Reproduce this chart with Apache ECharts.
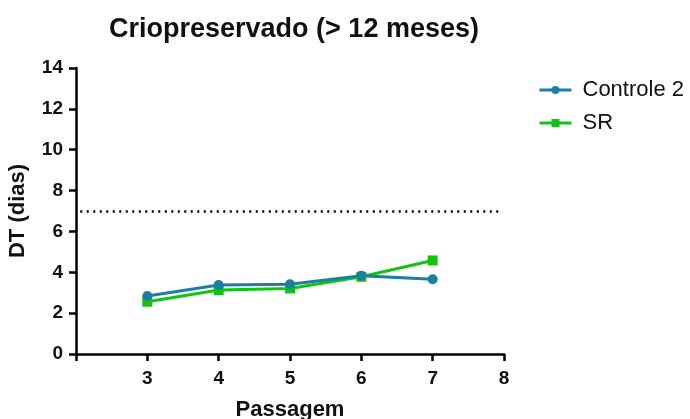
<!DOCTYPE html>
<html><head><meta charset="utf-8">
<script src="https://cdn.jsdelivr.net/npm/echarts@6/dist/echarts.min.js"></script>
<style>html,body{margin:0;padding:0;background:#fff}#c{width:690px;height:419px}</style>
</head><body><div id="c"></div>
<script>
const passagens = [3, 4, 5, 6, 7];
const controle2 = [2.84, 3.38, 3.41, 3.83, 3.66];
const sr = [2.56, 3.13, 3.21, 3.78, 4.58];
const refLine = 7;
const xTicks = [3, 4, 5, 6, 7, 8];
const yTicks = [0, 2, 4, 6, 8, 10, 12, 14];

const chart = echarts.init(document.getElementById('c'), null, {renderer: 'canvas'});
const font = 'Liberation Sans, Arial, sans-serif';
chart.setOption({
  animation: false,
  title: {text: 'Criopreservado (> 12 meses)', left: 289, top: 11, textAlign: 'center',
    textStyle: {fontFamily: font, fontSize: 27, fontWeight: 'bold', color: '#111'}},
  legend: {orient: 'vertical', left: 533, top: 74, itemGap: 11, itemWidth: 32, itemHeight: 10,
    lineStyle: {width: 3},
    textStyle: {fontFamily: font, fontSize: 22, color: '#111', padding: [0, 0, 0, 6]},
    data: ['Controle 2', 'SR']},
  grid: {left: 76, right: 186, top: 68, bottom: 65, containLabel: false, outerBoundsMode: 'none'},
  xAxis: {type: 'value', min: 2, max: 8, interval: 1,
    name: 'Passagem', nameLocation: 'middle', nameGap: 45,
    nameTextStyle: {fontFamily: font, fontSize: 22, fontWeight: 'bold', color: '#111'},
    axisLine: {lineStyle: {color: '#000', width: 2.5}},
    axisTick: {length: 7, lineStyle: {color: '#000', width: 2.5},
      interval: function (i, v) { return v !== 2; }},
    axisLabel: {fontFamily: font, fontSize: 19, fontWeight: 'bold', color: '#111', margin: 15,
      formatter: function (v) { return xTicks.indexOf(v) >= 0 ? String(v) : ''; }},
    splitLine: {show: false}},
  yAxis: {type: 'value', min: 0, max: 14, interval: 2,
    name: 'DT (dias)', nameLocation: 'middle', nameGap: 47, nameRotate: 90,
    nameTextStyle: {fontFamily: font, fontSize: 22, fontWeight: 'bold', color: '#111'},
    axisLine: {show: true, lineStyle: {color: '#000', width: 2.5}},
    axisTick: {show: true, length: 7, lineStyle: {color: '#000', width: 2.5}},
    axisLabel: {fontFamily: font, fontSize: 19, fontWeight: 'bold', color: '#111', margin: 13,
      formatter: function (v) { return yTicks.indexOf(v) >= 0 ? String(v) : ''; }},
    splitLine: {show: false}},
  series: [
    {name: 'Controle 2', type: 'line', data: passagens.map((p, i) => [p, controle2[i]]),
      symbol: 'circle', symbolSize: 10, z: 3,
      lineStyle: {color: '#1b7f9f', width: 3}, itemStyle: {color: '#1b7f9f'},
      markLine: {silent: true, symbol: 'none', label: {show: false},
        lineStyle: {color: '#000', type: [2, 4.5], width: 2.5},
        data: [[{coord: [2.06, refLine]}, {coord: [7.92, refLine]}]]}},
    {name: 'SR', type: 'line', data: passagens.map((p, i) => [p, sr[i]]),
      symbol: 'rect', symbolSize: 10, z: 2,
      lineStyle: {color: '#12c412', width: 3}, itemStyle: {color: '#12c412'}}
  ]
});
</script></body></html>
